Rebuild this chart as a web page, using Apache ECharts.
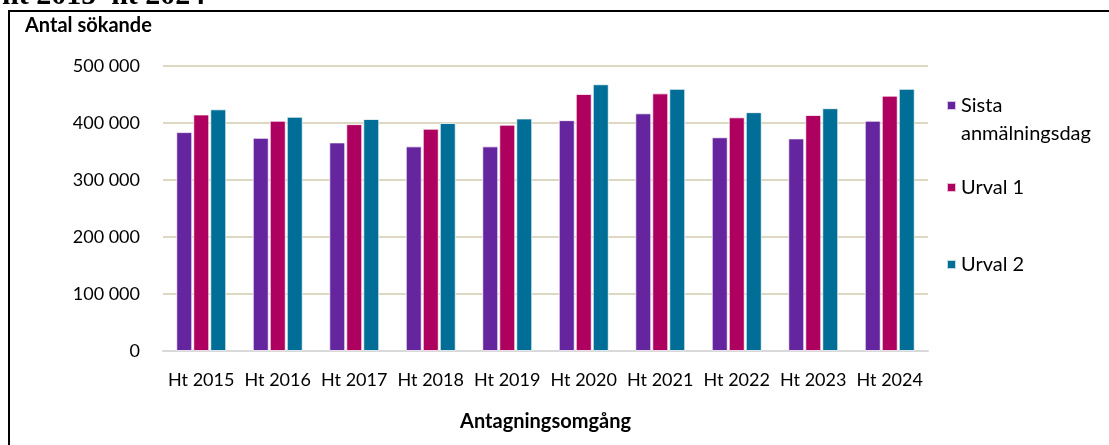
<!DOCTYPE html>
<html>
<head>
<meta charset="utf-8">
<script src="https://cdn.jsdelivr.net/npm/echarts@6/dist/echarts.min.js"></script>
<style>html,body{margin:0;padding:0;background:#fff;}#c{width:1109px;height:445px;}</style>
</head>
<body>
<div id="c"></div>
<script>
const categories = ['Ht 2015','Ht 2016','Ht 2017','Ht 2018','Ht 2019','Ht 2020','Ht 2021','Ht 2022','Ht 2023','Ht 2024'];
const sistaAnmalningsdag = [384000, 374000, 366000, 359000, 359000, 405000, 417000, 375000, 373000, 404000];
const urval1 = [415000, 404000, 398000, 390000, 397000, 451000, 452000, 410000, 414000, 448000];
const urval2 = [424000, 411000, 407000, 400000, 408000, 468000, 460000, 419000, 426000, 460000];
const seriesNames = ['Sista anmälningsdag', 'Urval 1', 'Urval 2'];
const yTicks = [0, 100000, 200000, 300000, 400000, 500000];
const titleText = 'ht 2015–ht 2024';
const yAxisTitle = 'Antal sökande';
const xAxisTitle = 'Antagningsomgång';

const colors = ['#65259e', '#ae005e', '#006e96'];
const FONT = 'Lato';
const chart = echarts.init(document.getElementById('c'), null, {renderer: 'canvas'});

function fmt(v) {
  return String(v).replace(/\B(?=(\d{3})+(?!\d))/g, ' ');
}

const barStyle = (i) => ({
  type: 'bar',
  name: seriesNames[i],
  barWidth: 16,
  barGap: '6.25%',
  itemStyle: { color: colors[i], borderColor: 'rgba(255,255,255,0.75)', borderWidth: 1 },
  data: [sistaAnmalningsdag, urval1, urval2][i]
});

const legendBase = {
  orient: 'vertical',
  left: 941,
  itemWidth: 9,
  itemHeight: 9,
  icon: 'rect',
  itemGap: 0,
  selectedMode: false,
  textStyle: { fontFamily: FONT, fontSize: 20, color: '#000', lineHeight: 29 }
};

chart.setOption({
  animation: false,
  color: colors,
  graphic: [
    { type: 'rect', shape: { x: 9, y: 11, width: 1200, height: 600 }, style: { fill: 'none', stroke: '#000', lineWidth: 2 }, silent: true },
    { type: 'text', x: 2, y: 11, style: { text: titleText, font: 'bold 30px "Liberation Serif"', fill: '#000', verticalAlign: 'bottom' }, silent: true },
    { type: 'text', left: 25, top: 16, style: { text: yAxisTitle, font: 'bold 20px Lato', fill: '#000' }, silent: true },
    { type: 'text', x: 961, y: 134, style: { text: 'anmälningsdag', font: '20px Lato', fill: '#000', verticalAlign: 'middle' }, silent: true }
  ],
  legend: [
    Object.assign({}, legendBase, { top: 86, data: [seriesNames[0]], formatter: () => 'Sista' }),
    Object.assign({}, legendBase, { top: 168, data: [seriesNames[1]] }),
    Object.assign({}, legendBase, { top: 245, data: [seriesNames[2]] })
  ],
  grid: { left: 163, right: 181, top: 66, bottom: 94 },
  xAxis: {
    type: 'category',
    data: categories,
    name: xAxisTitle,
    nameLocation: 'middle',
    nameGap: 61,
    nameTextStyle: { fontFamily: FONT, fontSize: 20, fontWeight: 'bold', color: '#000' },
    axisLine: { lineStyle: { color: '#d9d9d9', width: 2 } },
    axisTick: { show: false },
    axisLabel: { fontFamily: FONT, fontSize: 18, color: '#000', margin: 20, interval: 0, hideOverlap: false }
  },
  yAxis: {
    type: 'value',
    min: yTicks[0],
    max: yTicks[yTicks.length - 1],
    interval: yTicks[1] - yTicks[0],
    axisLine: { show: false },
    axisTick: { show: false },
    splitLine: { lineStyle: { color: '#dcd8c2', width: 2 } },
    axisLabel: { fontFamily: FONT, fontSize: 18, color: '#000', margin: 23, formatter: fmt }
  },
  series: [barStyle(0), barStyle(1), barStyle(2)]
});
</script>
</body>
</html>
